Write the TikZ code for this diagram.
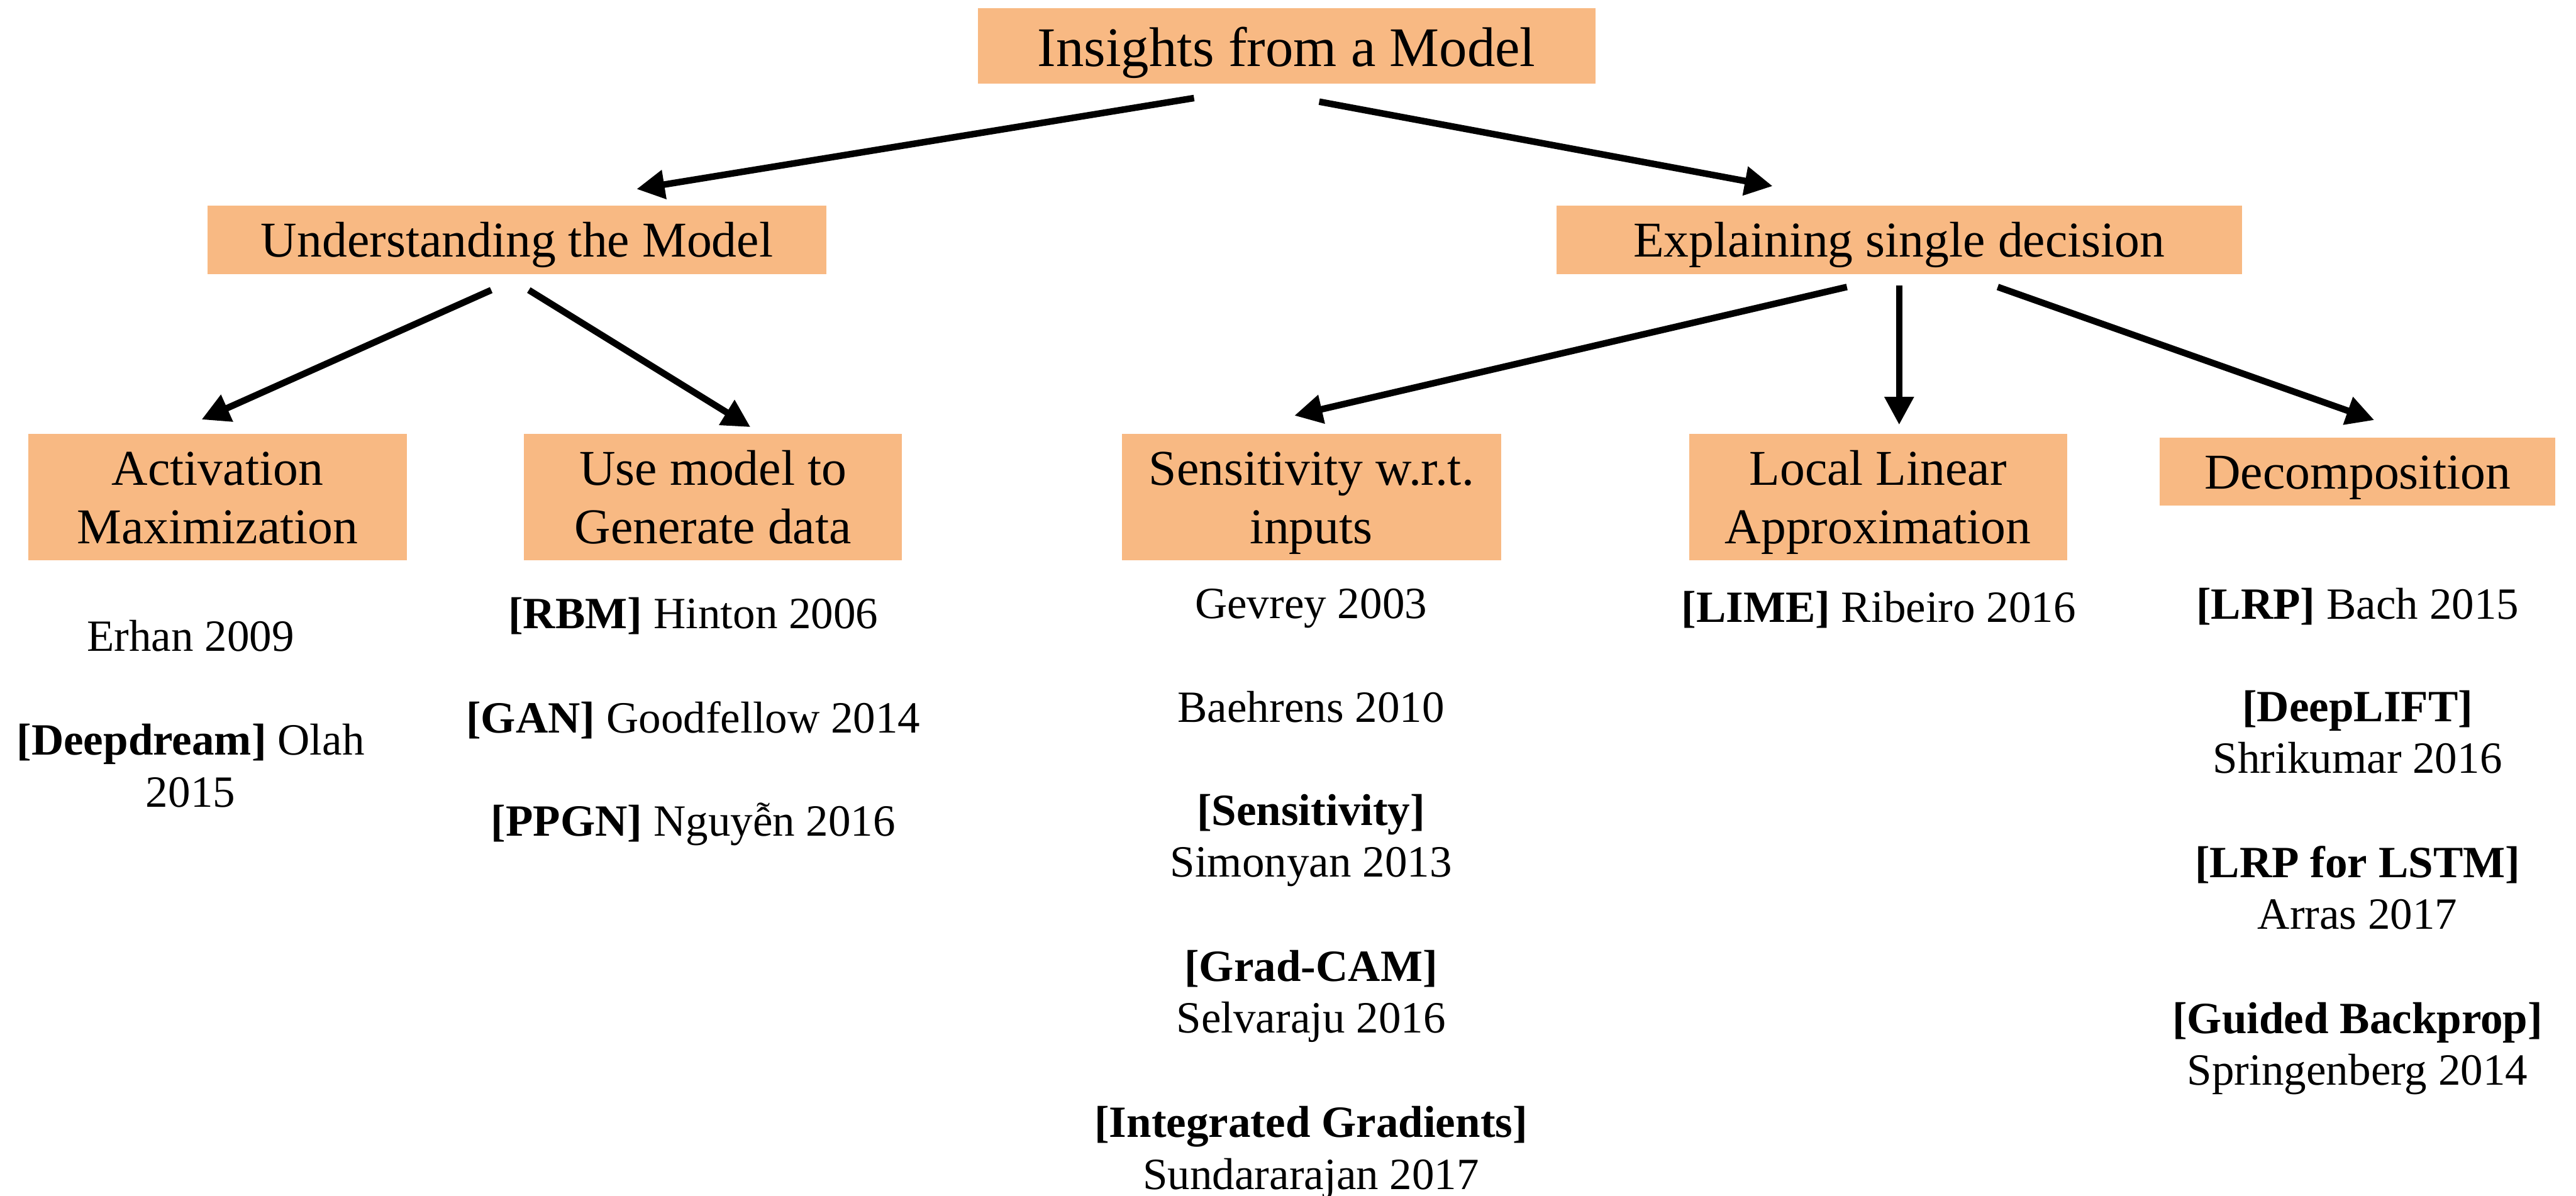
\documentclass[tikz,border=0pt]{standalone}
\usepackage{fontspec}
\setmainfont{Liberation Serif}
\usetikzlibrary{arrows.meta, calc}
\definecolor{peach}{RGB}{248,185,131}
\newcommand{\boxline}{\rule[-7pt]{0pt}{35pt}}
\newcommand{\titleline}{\rule[-8pt]{0pt}{40.8pt}}

\begin{document}
\begin{tikzpicture}[x=1pt, y=-1pt,
  box/.style={fill=peach, inner sep=0pt, align=center, font=\fontsize{30.5}{35.8}\selectfont},
  paper/.style={inner sep=0pt, anchor=north, align=center, font=\fontsize{27.2}{31.5}\selectfont},
  arr/.style={line width=4pt, -{Triangle[length=17pt, width=17pt]}}]
\useasboundingbox (0,0) rectangle (1568,728);

\node[box, minimum width=376pt, minimum height=45.8pt, font=\fontsize{34}{40}\selectfont] (insights) at (783.1,28) {\titleline Insights from a Model};
\node[box, minimum width=376.6pt, minimum height=41.6pt] (understand) at (314.7,146) {\boxline Understanding the Model};
\node[box, minimum width=417.4pt, minimum height=41.6pt] (explain) at (1156,146) {\boxline Explaining single decision};

\node[box, minimum width=230.2pt, minimum height=77pt] (actmax) at (132.4,302.6) {\boxline Activation\\\boxline Maximization};
\node[box, minimum width=230.2pt, minimum height=77pt] (usemodel) at (434,302.6) {\boxline Use model to\\\boxline Generate data};
\node[box, minimum width=231pt, minimum height=77pt] (sensitivity) at (798.3,302.6) {\boxline Sensitivity w.r.t.\\\boxline inputs};
\node[box, minimum width=230pt, minimum height=77pt] (locallin) at (1143.1,302.6) {\boxline Local Linear\\\boxline Approximation};
\node[box, minimum width=240.5pt, minimum height=41.5pt] (decomp) at (1435,287) {\boxline Decomposition};

\draw[arr] ($(insights.south)+(-56.3,8.6)$) -- ($(understand.north)+(72.8,-9.9)$);
\draw[arr] ($(insights.south)+(19.9,10.8)$) -- ($(explain.north)+(-77,-11.7)$);
\draw[arr] ($(understand.south)+(-15.7,9.6)$) -- ($(actmax.north)+(-9.7,-8.5)$);
\draw[arr] ($(understand.south)+(7.2,9.6)$) -- ($(usemodel.north)+(22.8,-3.9)$);
\draw[arr] ($(explain.south)+(-31.8,7.7)$) -- ($(sensitivity.north)+(-10.4,-10.9)$);
\draw[arr] ($(explain.south)+(0,6.8)$) -- ($(locallin.north)+(12.9,-5.3)$);
\draw[arr] ($(explain.south)+(60,7.7)$) -- ($(decomp.north)+(10.2,-10.3)$);

\node[paper] (erhan) at (116,374.25) {\strut Erhan 2009};
\node[paper] (deepdream) at (116,437.45) {\strut\textbf{[Deepdream]} Olah\\\strut 2015};

\node[paper] (rbm) at (422,360.45) {\strut\textbf{[RBM]} Hinton 2006};
\node[paper] (gan) at (422,423.75) {\strut\textbf{[GAN]} Goodfellow 2014};
\node[paper] (ppgn) at (422,486.55) {\strut\textbf{[PPGN]} Nguyễn 2016};

\node[paper] (gevrey) at (798,354.25) {\strut Gevrey 2003};
\node[paper] (baehrens) at (798,417.25) {\strut Baehrens 2010};
\node[paper] (simonyan) at (798,480.25) {\strut\textbf{[Sensitivity]}\\\strut Simonyan 2013};
\node[paper] (selvaraju) at (798,575.15) {\strut\textbf{[Grad-CAM]}\\\strut Selvaraju 2016};
\node[paper] (sundararajan) at (798,670.15) {\strut\textbf{[Integrated Gradients]}\\\strut Sundararajan 2017};

\node[paper] (lime) at (1143.5,356.45) {\strut\textbf{[LIME]} Ribeiro 2016};

\node[paper] (lrp) at (1435,354.45) {\strut\textbf{[LRP]} Bach 2015};
\node[paper] (deeplift) at (1435,416.95) {\strut\textbf{[DeepLIFT]}\\\strut Shrikumar 2016};
\node[paper] (lrplstm) at (1435,511.95) {\strut\textbf{[LRP for LSTM]}\\\strut Arras 2017};
\node[paper] (guided) at (1435,606.95) {\strut\textbf{[Guided Backprop]}\\\strut Springenberg 2014};
\end{tikzpicture}
\end{document}
